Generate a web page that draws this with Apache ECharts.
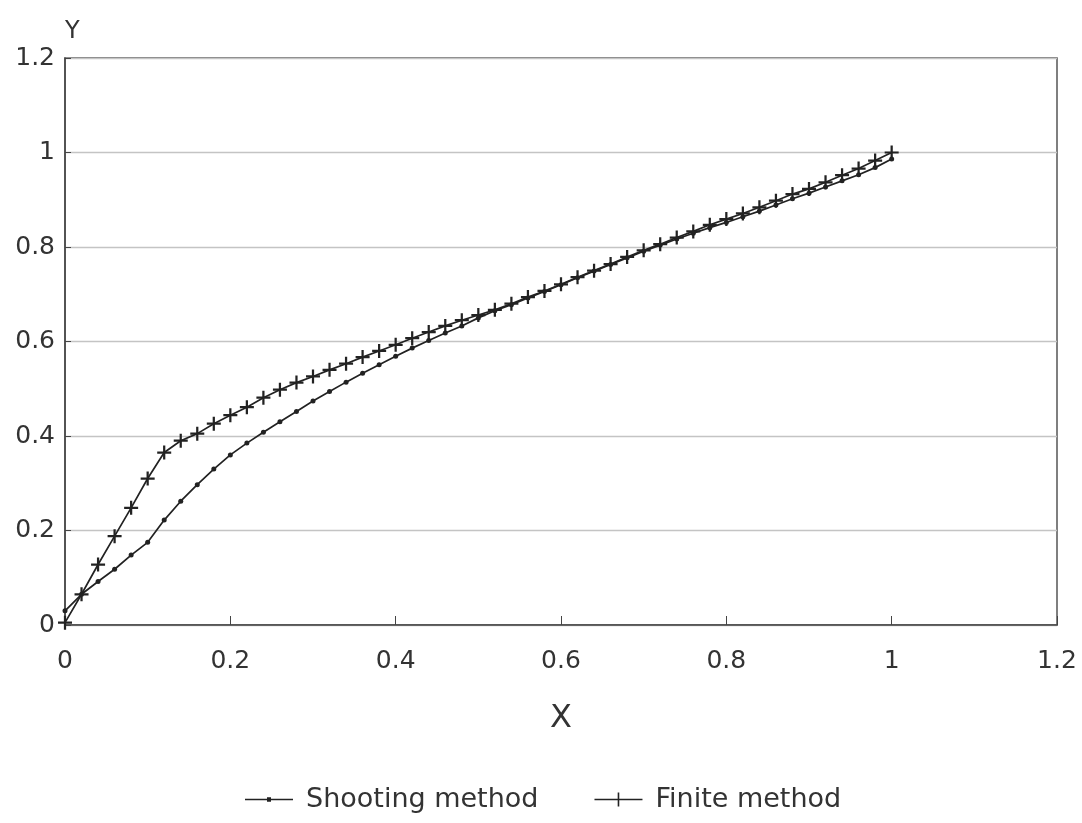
<!DOCTYPE html>
<html>
<head>
<meta charset="utf-8">
<script src="https://cdn.jsdelivr.net/npm/echarts@6/dist/echarts.min.js"></script>
<style>
html,body{margin:0;padding:0;background:#fff;}
#main{width:1082px;height:823px;}
</style>
</head>
<body>
<div id="main"></div>
<script>
// x positions, step 0.02
var xs=[0,0.02,0.04,0.06,0.08,0.1,0.12,0.14,0.16,0.18,0.2,0.22,0.24,0.26,0.28,0.3,0.32,0.34,0.36,0.38,0.4,
0.42,0.44,0.46,0.48,0.5,0.52,0.54,0.56,0.58,0.6,0.62,0.64,0.66,0.68,0.7,0.72,0.74,0.76,0.78,0.8,
0.82,0.84,0.86,0.88,0.9,0.92,0.94,0.96,0.98,1];

var shooting=[0.03,0.065,0.092,0.118,0.148,0.175,0.222,0.262,0.297,0.33,0.36,0.385,0.408,0.43,0.452,0.474,0.494,0.514,0.533,0.551,0.569,
0.586,0.602,0.618,0.633,0.65,0.665,0.678,0.692,0.706,0.72,0.735,0.749,0.763,0.777,0.791,0.804,0.817,0.829,0.841,0.852,
0.864,0.876,0.889,0.902,0.914,0.927,0.94,0.953,0.968,0.986];

var finite=[0.005,0.065,0.128,0.188,0.248,0.31,0.365,0.39,0.405,0.426,0.444,0.461,0.481,0.498,0.513,0.526,0.54,0.553,0.567,0.58,0.593,
0.607,0.62,0.633,0.645,0.656,0.667,0.68,0.694,0.707,0.721,0.736,0.75,0.764,0.779,0.793,0.806,0.82,0.833,0.847,0.859,
0.871,0.884,0.898,0.912,0.923,0.937,0.952,0.966,0.983,1.0];

var names=['Shooting method','Finite method'];

function pairs(ys){
	var out=[];
	for(var i=0;i<xs.length;i++){ out.push([xs[i],ys[i]]); }
	return out;
}

var plus='path://M4.2,0 H5.8 V4.2 H10 V5.8 H5.8 V10 H4.2 V5.8 H0 V4.2 H4.2 Z';
// legend icons: line with small dot / line with plus
var iconDot='path://M0,6.3 H48 V7.7 H0 Z M22,4.8 H26 V9.2 H22 Z';
var iconPlus='path://M0,6.3 H48 V7.7 H0 Z M23.2,0 H24.8 V14 H23.2 Z';
var ink='#222';
var font='DejaVu Sans';

var chart=echarts.init(document.getElementById('main'));
var option={
	backgroundColor:'#fff',
	animation:false,
	grid:{left:65,right:25,top:58,bottom:198,show:true,borderColor:'#555',borderWidth:1.5},
	legend:{
		bottom:5,left:240,itemGap:56,itemWidth:48,itemHeight:14,
		textStyle:{fontFamily:font,fontSize:27,color:'#333',padding:[0,0,0,8]},
		data:[{name:names[0],icon:iconDot},{name:names[1],icon:iconPlus}]
	},
	xAxis:{
		type:'value',min:0,max:1.2,interval:0.2,
		name:'X',nameLocation:'middle',nameGap:78,
		nameTextStyle:{fontFamily:font,fontSize:32,color:'#333'},
		axisLine:{lineStyle:{color:'#444',width:1.5}},
		axisTick:{inside:true,length:9,lineStyle:{color:'#444'}},
		axisLabel:{margin:24,fontFamily:font,fontSize:25,color:'#333'},
		splitLine:{show:false}
	},
	yAxis:{
		type:'value',min:0,max:1.2,interval:0.2,
		name:'Y',nameLocation:'end',nameGap:14,
		nameTextStyle:{fontFamily:font,fontSize:24,color:'#333',align:'left'},
		axisLine:{show:true,lineStyle:{color:'#444',width:1.5}},
		axisTick:{show:true,inside:true,length:6,lineStyle:{color:'#444'}},
		axisLabel:{margin:10,fontFamily:font,fontSize:25,color:'#333'},
		splitLine:{show:true,lineStyle:{color:'#c4c4c4',width:1.3}}
	},
	series:[
		{
			name:names[0],type:'line',data:pairs(shooting),
			symbol:'circle',symbolSize:5,showAllSymbol:true,
			lineStyle:{color:ink,width:1.7},itemStyle:{color:ink}
		},
		{
			name:names[1],type:'line',data:pairs(finite),
			symbol:plus,symbolSize:14,showAllSymbol:true,
			lineStyle:{color:ink,width:1.7},itemStyle:{color:ink}
		}
	]
};
chart.setOption(option);
</script>
</body>
</html>
